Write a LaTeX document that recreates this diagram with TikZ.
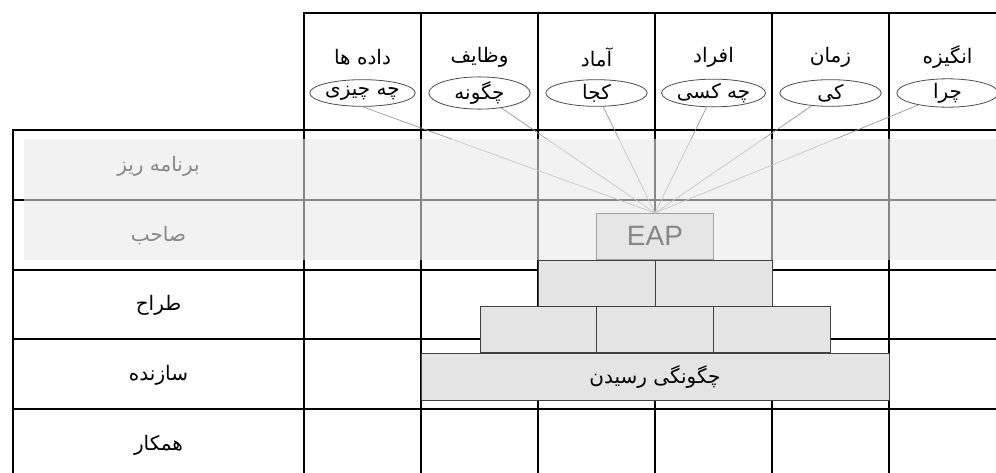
\documentclass[tikz,border=0pt]{standalone}
\usepackage{fontspec}
\usetikzlibrary{shapes.geometric}
\TeXXeTstate=1
\newfontfamily\fa[Script=Arabic]{DejaVu Sans}
\newfontfamily\lat{Liberation Sans}
\definecolor{bandgray}{RGB}{233,233,233}
\definecolor{brickgray}{RGB}{228,228,228}
\begin{document}
\begin{tikzpicture}[x=0.75pt,y=-0.75pt,
  grid/.style={line width=1.5pt,black,line cap=rect},
  conn/.style={draw=gray!85, line width=0.5pt},
  oval/.style={ellipse, draw=black!70, line width=0.6pt, fill=white, minimum width=76pt, minimum height=20pt, inner sep=0pt, font=\fa\fontsize{15}{17}\selectfont},
  coltitle/.style={font=\fa\fontsize{15}{17}\selectfont, inner sep=0pt},
  rowlabel/.style={font=\fa\fontsize{15}{17}\selectfont, inner sep=0pt},
  brick/.style={draw=black!75, line width=0.6pt, fill=brickgray, minimum width=87.75pt, minimum height=34.5pt, inner sep=0pt, outer sep=0pt},
]
\useasboundingbox (0,0) rectangle (996,472);
\clip (0,0) rectangle (996,472);
% grid
\foreach \x in {304,421,538,655,772,889} \draw[grid] (\x,13) -- (\x,480);
\draw[grid] (304,13) -- (1000,13);
\draw[grid] (13,130) -- (13,480);
\foreach \y in {130,200,270,339,409} \draw[grid] (13,\y) -- (1000,\y);
% column titles
\node[coltitle] (t1) at (362.5,57) {\beginR داده ها\endR};
\node[coltitle] (t2) at (479.5,57) {\beginR وظایف\endR};
\node[coltitle] (t3) at (596.5,57) {\beginR آماد\endR};
\node[coltitle] (t4) at (713.5,57) {\beginR افراد\endR};
\node[coltitle] (t5) at (830.5,57) {\beginR زمان\endR};
\node[coltitle] (t6) at (947.5,57) {\beginR انگیزه\endR};
% ovals
\node[oval] (e1) at (362.5,93) {\beginR چه چیزی\endR};
\node[oval] (e2) at (479.5,93) {\beginR چگونه\endR};
\node[oval] (e3) at (596.5,93) {\beginR کجا\endR};
\node[oval] (e4) at (713.5,93) {\beginR چه کسی\endR};
\node[oval] (e5) at (830.5,93) {\beginR کی\endR};
\node[oval] (e6) at (947.5,93) {\beginR چرا\endR};
% row labels
\node[rowlabel] (r1) at (158.5,166) {\beginR برنامه ریز\endR};
\node[rowlabel] (r2) at (158.5,236) {\beginR صاحب\endR};
\node[rowlabel] (r3) at (158.5,305) {\beginR طراح\endR};
\node[rowlabel] (r4) at (158.5,375) {\beginR سازنده\endR};
\node[rowlabel] (r5) at (158.5,445) {\beginR همکار\endR};
% pyramid
\node[brick, font=\lat\fontsize{21}{24}\selectfont] (eap) at (655,236) {EAP};
\node[brick] (b21) at (596.5,283) {};
\node[brick] (b22) at (713.5,283) {};
\node[brick] (b31) at (538.5,329.5) {};
\node[brick] (b32) at (655,329.5) {};
\node[brick] (b33) at (771.5,329.5) {};
\node[brick, minimum width=351pt, minimum height=35.25pt, font=\fa\fontsize{15}{17}\selectfont] (base) at (655,376.5) {\beginR چگونگی رسیدن\endR};
% connectors
\draw[conn] (e1.south) -- (eap.north);
\draw[conn] (e2) -- (eap.north);
\draw[conn] (e3) -- (eap.north);
\draw[conn] (e4) -- (eap.north);
\draw[conn] (e5) -- (eap.north);
\draw[conn] (e6) -- (eap.north);
% translucent band
\fill[bandgray, opacity=0.58] (24,139) rectangle (1000,260);
\end{tikzpicture}
\end{document}
